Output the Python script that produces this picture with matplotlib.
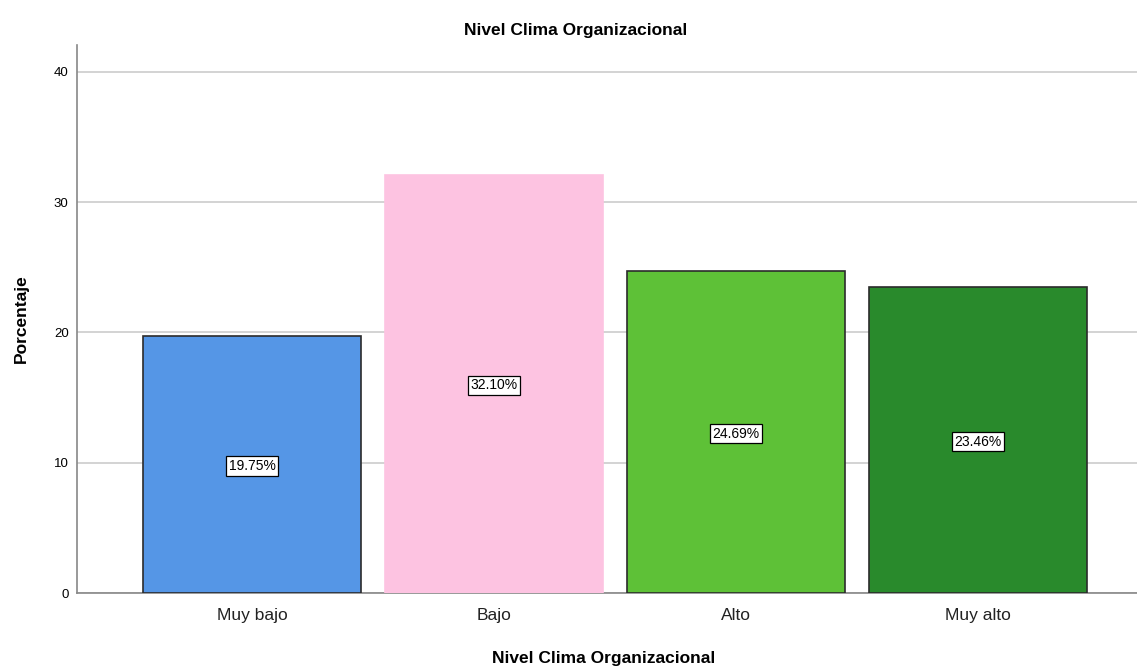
import matplotlib
matplotlib.use("Agg")
import matplotlib.pyplot as plt

plt.rcParams['font.family'] = ['Liberation Sans', 'DejaVu Sans']

categories = ["Muy bajo", "Bajo", "Alto", "Muy alto"]
percentages = [19.75, 32.10, 24.69, 23.46]
colors = ["#5596E6", "#FDC3E1", "#5EC137", "#298A2C"]
edges = ["#2b2b2b", "#FDC3E1", "#2b2b2b", "#2b2b2b"]
y_ticks = [0, 10, 20, 30, 40]

fig = plt.figure(figsize=(11.37, 6.71), dpi=100)
ax = fig.add_axes([77 / 1137, 78 / 671, 1 - 77 / 1137, (593 - 45) / 671])

x = range(len(categories))
bars = ax.bar(x, percentages, width=0.9, color=colors, edgecolor=edges,
              linewidth=1.2, zorder=3)

for bar, p in zip(bars, percentages):
    ax.text(bar.get_x() + bar.get_width() / 2, p / 2, f"{p:.2f}%",
            ha='center', va='center_baseline', fontsize=10, zorder=4,
            bbox=dict(boxstyle='square,pad=0.2', facecolor='white',
                      edgecolor='black', linewidth=0.9))

ax.set_xlim(-0.723, 3.657)
ax.set_ylim(0, 42.07)
ax.set_yticks(y_ticks)
ax.set_xticks(list(x))
ax.set_xticklabels(categories, fontsize=12.5, color='#222222')
ax.tick_params(axis='y', labelsize=9.5, length=0, pad=6)
ax.tick_params(axis='x', length=0, pad=11)
ax.yaxis.grid(True, color='#d0d0d0', linewidth=1.3, zorder=0)
ax.set_axisbelow(True)

for side in ['top', 'right']:
    ax.spines[side].set_visible(False)
for side in ['left', 'bottom']:
    ax.spines[side].set_color('#888888')
    ax.spines[side].set_linewidth(1.2)

ax.set_ylabel("Porcentaje", fontsize=12.5, fontweight='bold', labelpad=18)
fig.text(604 / 1137, 1 - 659 / 671, "Nivel Clima Organizacional",
         ha='center', va='center', fontsize=12.5, fontweight='bold')
fig.text(576 / 1137, 1 - 30 / 671, "Nivel Clima Organizacional",
         ha='center', va='center', fontsize=12.5, fontweight='bold')

fig.savefig("out.png", dpi=100)
